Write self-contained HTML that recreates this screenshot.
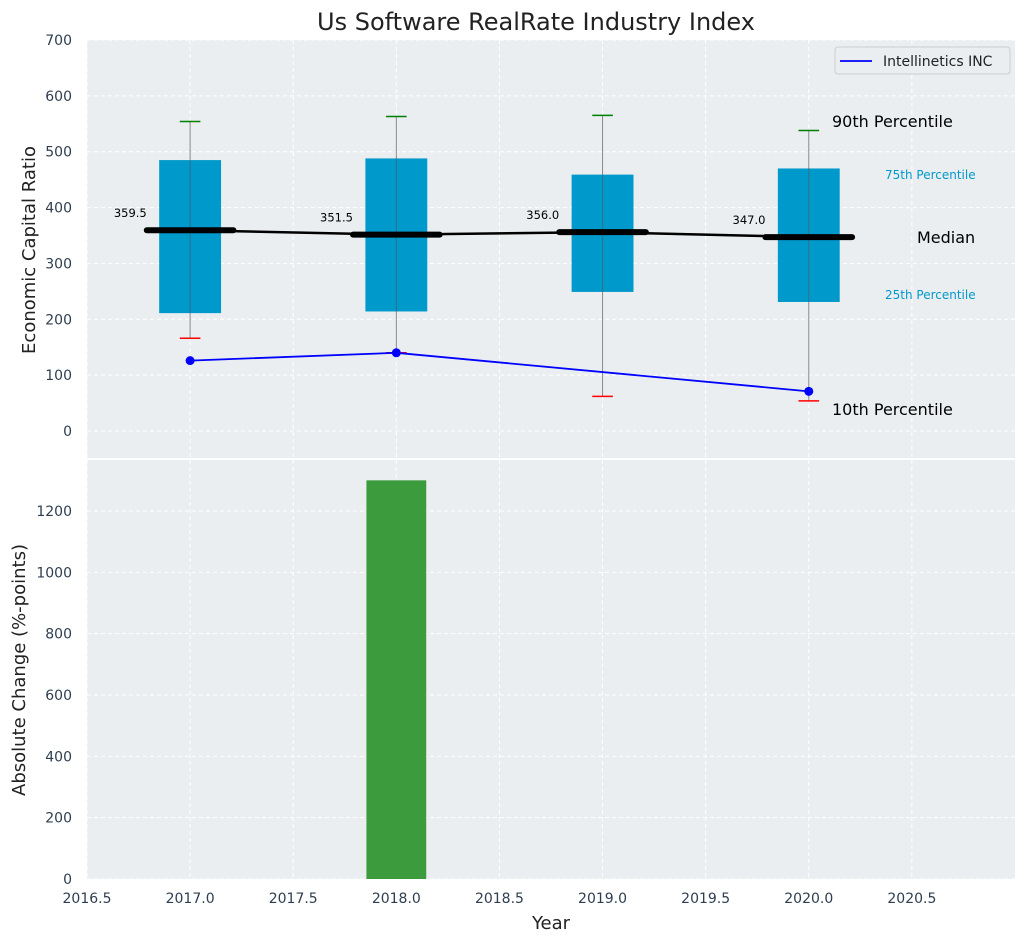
<!DOCTYPE html>
<html><head><meta charset="utf-8">
<style>
body{margin:0;background:#fff;font-family:"Liberation Sans","DejaVu Sans",sans-serif;}
svg text{font-family:"DejaVu Sans","Liberation Sans",sans-serif;}
</style></head>
<body>
<svg id="chart" width="1026" height="942" xmlns="http://www.w3.org/2000/svg"></svg>
<script>
const years=[2017,2018,2019,2020];
const p10=[166,140,62,54];
const p25=[211,214,249,231];
const medians=[359.5,351.5,356.0,347.0];
const p75=[485,488,459,470];
const p90=[554,563,565,538];
const companyYears=[2017,2018,2020];
const companyValues=[126,140,71];
const changeYears=[2018];
const changeValues=[1300];
const xTicks=[2016.5,2017.0,2017.5,2018.0,2018.5,2019.0,2019.5,2020.0,2020.5];
const yTopTicks=[0,100,200,300,400,500,600,700];
const yBotTicks=[0,200,400,600,800,1000,1200];

const L=87,R=1015,T1=40,B1=458,T2=460,B2=879;
const X=v=>L+(v-2016.5)/(2021.0-2016.5)*(R-L);
const Y1=v=>431-(v)*(391/700);
const Y2=v=>B2-v*(368/1200);
const svg=document.getElementById('chart');
const NS='http://www.w3.org/2000/svg';
function mk(tag,attrs,parent){const e=document.createElementNS(NS,tag);for(const k in attrs)e.setAttribute(k,attrs[k]);(parent||svg).appendChild(e);return e;}
function txt(s,attrs){const e=mk('text',attrs);e.textContent=s;return e;}

let bg1=mk('rect',{x:L,y:T1,width:R-L,height:B1-T1,fill:'#eaeef0'});


let bg2=mk('rect',{x:L,y:T2,width:R-L,height:B2-T2,fill:'#eaeef0'});



xTicks.forEach(v=>{
  mk('line',{x1:X(v),x2:X(v),y1:T1,y2:B1,stroke:'#fff','stroke-dasharray':'4,3','stroke-width':1});
  mk('line',{x1:X(v),x2:X(v),y1:T2,y2:B2,stroke:'#fff','stroke-dasharray':'4,3','stroke-width':1});
  let t=txt(v.toFixed(1),{x:X(v),y:903,'text-anchor':'middle','font-size':14,fill:'#2e3e50'});
  
  
});
yTopTicks.forEach(v=>{
  mk('line',{x1:L,x2:R,y1:Y1(v),y2:Y1(v),stroke:'#fff','stroke-dasharray':'4,3','stroke-width':1});
  let t=txt(String(v),{x:72,y:Y1(v)+5,'text-anchor':'end','font-size':14,fill:'#2e3e50'});
  
  
});
yBotTicks.forEach(v=>{
  mk('line',{x1:L,x2:R,y1:Y2(v),y2:Y2(v),stroke:'#fff','stroke-dasharray':'4,3','stroke-width':1});
  let t=txt(String(v),{x:72,y:Y2(v)+5,'text-anchor':'end','font-size':14,fill:'#2e3e50'});
  
  
});

years.forEach((yr,i)=>{
  let w=mk('line',{x1:X(yr),x2:X(yr),y1:Y1(p90[i]),y2:Y1(p10[i]),stroke:'#888','stroke-width':1});
  
  
  let b=mk('rect',{x:X(yr-0.15),y:Y1(p75[i]),width:X(yr+0.15)-X(yr-0.15),height:Y1(p25[i])-Y1(p75[i]),fill:'#0099cc'});
  
  
  mk('line',{x1:X(yr),x2:X(yr),y1:Y1(p75[i]),y2:Y1(p25[i]),stroke:'#555','stroke-width':1,opacity:0.6});
  let c1=mk('line',{x1:X(yr-0.05),x2:X(yr+0.05),y1:Y1(p90[i]),y2:Y1(p90[i]),stroke:'green','stroke-width':1.5});
  
  
  let c2=mk('line',{x1:X(yr-0.05),x2:X(yr+0.05),y1:Y1(p10[i]),y2:Y1(p10[i]),stroke:'red','stroke-width':1.5});
  
  
});
let mp=mk('polyline',{points:years.map((y,i)=>X(y)+','+Y1(medians[i])).join(' '),fill:'none',stroke:'#000','stroke-width':2.5});


years.forEach((yr,i)=>{
  let m=mk('line',{x1:X(yr-0.21),x2:X(yr+0.21),y1:Y1(medians[i]),y2:Y1(medians[i]),stroke:'#000','stroke-width':6,'stroke-linecap':'round'});
  
  
  let t=txt(medians[i].toFixed(1),{x:X(yr-0.29),y:Y1(medians[i])-13,'text-anchor':'middle','font-size':11.5,fill:'#000'});
  
  
});
let cl=mk('polyline',{points:companyYears.map((y,i)=>X(y)+','+Y1(companyValues[i])).join(' '),fill:'none',stroke:'blue','stroke-width':1.8});


companyYears.forEach((y,i)=>{
  let c=mk('circle',{cx:X(y),cy:Y1(companyValues[i]),r:4.5,fill:'blue'});
  
  
});
[['90th Percentile',832,127,16,'#000'],['75th Percentile',885,179,12,'#0099cc'],['Median',917,243,16,'#000'],['25th Percentile',885,299,12,'#0099cc'],['10th Percentile',832,415,16,'#000']].forEach(a=>{
  let t=txt(a[0],{x:a[1],y:a[2],'font-size':a[3],fill:a[4]});
  
  
});
let lg=mk('rect',{x:835,y:47,width:175,height:27,rx:3,fill:'#eaeef0',stroke:'#ccc'});


mk('line',{x1:840,x2:872,y1:61,y2:61,stroke:'blue','stroke-width':1.8});
let lt=txt('Intellinetics INC',{x:883,y:66,'font-size':14,fill:'#222'});



changeYears.forEach((y,i)=>{
  let b=mk('rect',{x:X(y-0.145),y:Y2(changeValues[i]),width:X(y+0.145)-X(y-0.145),height:Y2(0)-Y2(changeValues[i]),fill:'#3c9b3c'});
  
  
});

let tt=txt('Us Software RealRate Industry Index',{x:536,y:30,'text-anchor':'middle','font-size':24,fill:'#222'});


let xt=txt('Year',{x:551,y:929,'text-anchor':'middle','font-size':18,fill:'#222'});


let y1t=txt('Economic Capital Ratio',{x:0,y:0,'text-anchor':'middle','font-size':18,fill:'#222',transform:'translate(35,250) rotate(-90)'});


let y2t=txt('Absolute Change (%-points)',{x:0,y:0,'text-anchor':'middle','font-size':18,fill:'#222',transform:'translate(25,670) rotate(-90)'});


</script>
</body></html>
